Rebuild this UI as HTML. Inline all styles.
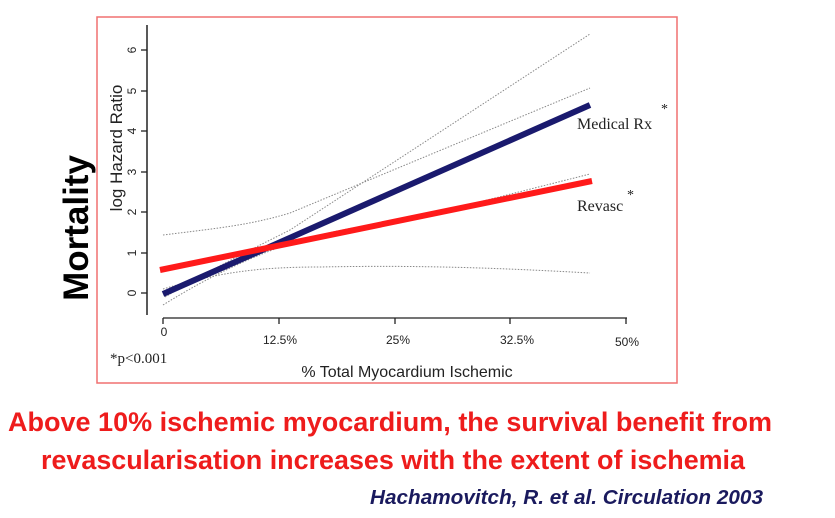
<!DOCTYPE html>
<html><head><meta charset="utf-8"><style>html,body{margin:0;padding:0;background:#fff}svg{display:block}</style></head><body>
<svg width="835" height="518" viewBox="0 0 835 518" xmlns="http://www.w3.org/2000/svg">
<rect x="97" y="17" width="580" height="366" fill="#fff" stroke="#f07070" stroke-width="1.5"/>
<line x1="147" y1="25" x2="147" y2="315" stroke="#222" stroke-width="1.5"/>
<g stroke="#222" stroke-width="1.3">
<line x1="141" y1="293" x2="147" y2="293"/><line x1="141" y1="253" x2="147" y2="253"/><line x1="141" y1="212" x2="147" y2="212"/><line x1="141" y1="172" x2="147" y2="172"/><line x1="141" y1="131" x2="147" y2="131"/><line x1="141" y1="91" x2="147" y2="91"/><line x1="141" y1="50" x2="147" y2="50"/>
<line x1="163" y1="318" x2="627" y2="318"/>
<line x1="163" y1="318" x2="163" y2="324"/><line x1="279" y1="318" x2="279" y2="324"/><line x1="395" y1="318" x2="395" y2="324"/><line x1="510" y1="318" x2="510" y2="324"/><line x1="626" y1="318" x2="626" y2="324"/>
</g>
<g font-family="Liberation Sans, sans-serif" font-size="12" fill="#222" text-anchor="middle">
<text transform="translate(136,293) rotate(-90)">0</text>
<text transform="translate(136,253) rotate(-90)">1</text>
<text transform="translate(136,212) rotate(-90)">2</text>
<text transform="translate(136,172) rotate(-90)">3</text>
<text transform="translate(136,131) rotate(-90)">4</text>
<text transform="translate(136,91) rotate(-90)">5</text>
<text transform="translate(136,50) rotate(-90)">6</text>
<text x="164" y="336">0</text><text x="280" y="344">12.5%</text><text x="398" y="344">25%</text><text x="517" y="344">32.5%</text><text x="627" y="346">50%</text>
</g>
<text transform="translate(122,148) rotate(-90)" font-family="Liberation Sans, sans-serif" font-size="17" fill="#222" text-anchor="middle">log Hazard Ratio</text>
<text x="407" y="377" font-family="Liberation Sans, sans-serif" font-size="16" fill="#222" text-anchor="middle">% Total Myocardium Ischemic</text>
<text x="110" y="363" font-family="Liberation Serif, serif" font-size="15" fill="#222">*p&lt;0.001</text>
<text transform="translate(88,228) rotate(-90)" font-family="Liberation Sans, sans-serif" font-size="35" font-weight="bold" fill="#000" text-anchor="middle">Mortality</text>
<g fill="none" stroke="#888" stroke-width="1" stroke-dasharray="1.5,1.5">
<path d="M163,235 C220,228 250,225 290,213 L590,88"/>
<path d="M163,289 C220,272 260,267 320,267 C420,265 500,268 590,273"/>
<path d="M165,297 C210,270 250,250 290,230 L590,34"/>
<path d="M163,305 C260,245 330,228 400,222 L590,174"/>
</g>
<line x1="163" y1="294" x2="590" y2="105" stroke="#1a1a6e" stroke-width="6"/>
<line x1="160" y1="270" x2="592" y2="181" stroke="#ff1a1a" stroke-width="6"/>
<g font-family="Liberation Serif, serif" font-size="16" fill="#222">
<text x="577" y="129">Medical  Rx</text><text x="661" y="113" font-size="14">*</text>
<text x="577" y="211">Revasc</text><text x="627" y="199" font-size="14">*</text>
</g>
<g font-family="Liberation Sans Narrow, Liberation Sans, sans-serif" font-size="27" font-weight="bold" fill="#ee1c1c">
<text x="8" y="431" textLength="764" lengthAdjust="spacingAndGlyphs">Above 10% ischemic myocardium, the survival benefit from</text>
<text x="41" y="469" textLength="704" lengthAdjust="spacingAndGlyphs">revascularisation increases with the extent of ischemia</text>
</g>
<text x="370" y="504" textLength="393" lengthAdjust="spacingAndGlyphs" font-family="Liberation Sans Narrow, Liberation Sans, sans-serif" font-size="20" font-weight="bold" font-style="italic" fill="#1a1a5e">Hachamovitch, R. et al. Circulation 2003</text>
</svg>
</body></html>
